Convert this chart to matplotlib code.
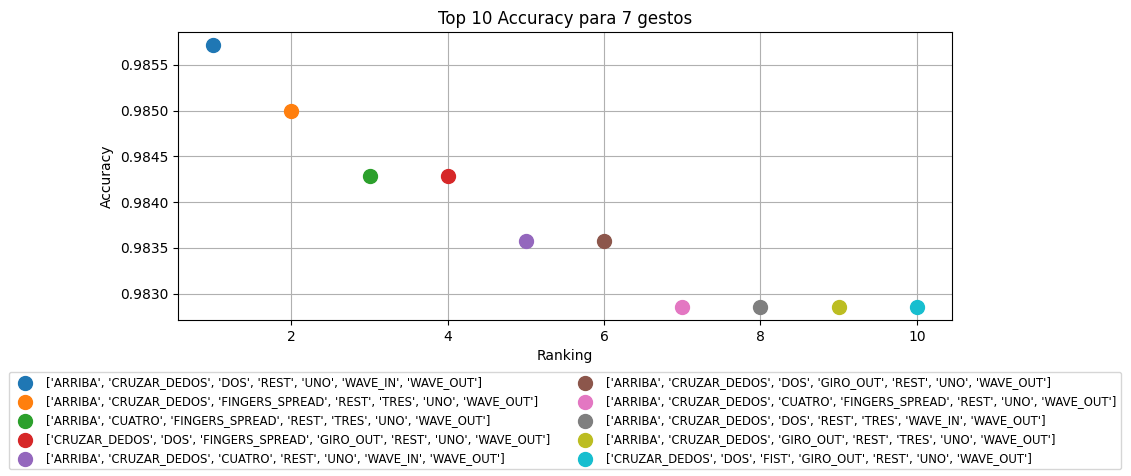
import matplotlib
matplotlib.use("Agg")
import matplotlib.pyplot as plt

ranking = [1, 2, 3, 4, 5, 6, 7, 8, 9, 10]
accuracy = [0.985714, 0.985000, 0.984286, 0.984286, 0.983571, 0.983571,
            0.982857, 0.982857, 0.982857, 0.982857]
labels = [
    "['ARRIBA', 'CRUZAR_DEDOS', 'DOS', 'REST', 'UNO', 'WAVE_IN', 'WAVE_OUT']",
    "['ARRIBA', 'CRUZAR_DEDOS', 'FINGERS_SPREAD', 'REST', 'TRES', 'UNO', 'WAVE_OUT']",
    "['ARRIBA', 'CUATRO', 'FINGERS_SPREAD', 'REST', 'TRES', 'UNO', 'WAVE_OUT']",
    "['CRUZAR_DEDOS', 'DOS', 'FINGERS_SPREAD', 'GIRO_OUT', 'REST', 'UNO', 'WAVE_OUT']",
    "['ARRIBA', 'CRUZAR_DEDOS', 'CUATRO', 'REST', 'UNO', 'WAVE_IN', 'WAVE_OUT']",
    "['ARRIBA', 'CRUZAR_DEDOS', 'DOS', 'GIRO_OUT', 'REST', 'UNO', 'WAVE_OUT']",
    "['ARRIBA', 'CRUZAR_DEDOS', 'CUATRO', 'FINGERS_SPREAD', 'REST', 'UNO', 'WAVE_OUT']",
    "['ARRIBA', 'CRUZAR_DEDOS', 'DOS', 'REST', 'TRES', 'WAVE_IN', 'WAVE_OUT']",
    "['ARRIBA', 'CRUZAR_DEDOS', 'GIRO_OUT', 'REST', 'TRES', 'UNO', 'WAVE_OUT']",
    "['CRUZAR_DEDOS', 'DOS', 'FIST', 'GIRO_OUT', 'REST', 'UNO', 'WAVE_OUT']",
]

fig = plt.figure(figsize=(11.31, 4.76), dpi=100)
ax = fig.add_axes([178/1131, 1-320/476, (952-178)/1131, (320-32)/476])
for r, a, l in zip(ranking, accuracy, labels):
    ax.scatter(r, a, s=100, label=l, zorder=3)
ax.set_title("Top 10 Accuracy para 7 gestos")
ax.set_xlabel("Ranking")
ax.set_ylabel("Accuracy")
ax.grid(True)
ax.set_axisbelow(True)
ax.legend(loc="upper center", bbox_to_anchor=(0.5, -0.16), ncol=2, fontsize="small")
fig.savefig("out.png", dpi=100)
